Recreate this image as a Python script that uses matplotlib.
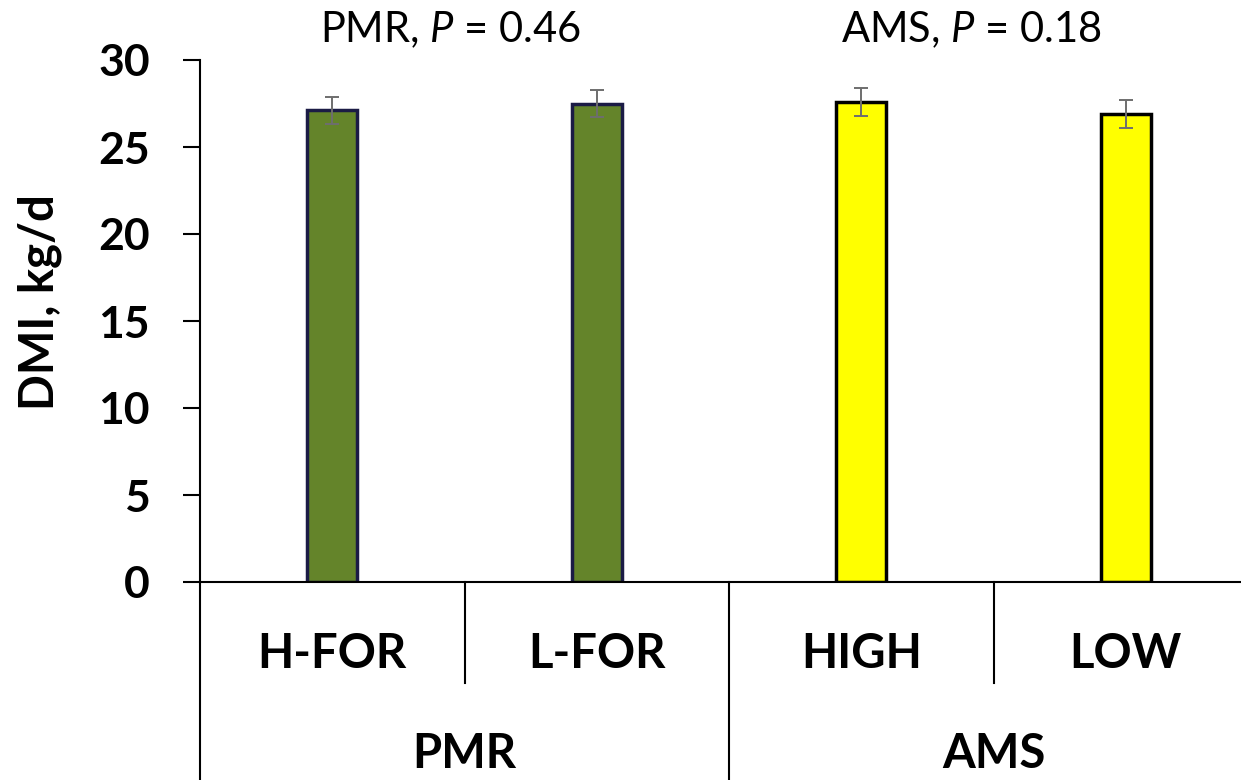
import matplotlib
matplotlib.use("Agg")
import matplotlib.pyplot as plt

# data
categories = ["H-FOR", "L-FOR", "HIGH", "LOW"]
groups = ["PMR", "AMS"]
dmi = [27.1, 27.5, 27.6, 26.9]
sem = [0.79, 0.78, 0.80, 0.80]
titles = ["PMR, $\\mathit{P}$ = 0.46", "AMS, $\\mathit{P}$ = 0.18"]

plt.rcParams['font.family'] = ['Lato', 'DejaVu Sans']
plt.rcParams['mathtext.fontset'] = 'custom'
plt.rcParams['mathtext.it'] = 'Lato:italic'
plt.rcParams['mathtext.rm'] = 'Lato'

fig = plt.figure(figsize=(12.41, 7.8), dpi=100)
ax = fig.add_axes([200 / 1241, 198 / 780, 1058 / 1241, 522 / 780])

colors = ["#64842A", "#64842A", "#FFFF00", "#FFFF00"]
edges = ["#1B1B45", "#1B1B45", "#000000", "#000000"]
xs = list(range(len(categories)))
ax.bar(xs, dmi, width=0.19, color=colors, edgecolor=edges, linewidth=2.5, zorder=2)
ax.errorbar(xs, dmi, yerr=sem, fmt='none', ecolor="#6E6E6E", elinewidth=1.4,
            capsize=5, capthick=1.4, zorder=3)

ax.set_xlim(-0.5, 3.5)
ax.set_ylim(0, 30)
ax.set_yticks([0, 5, 10, 15, 20, 25, 30])
ax.tick_params(axis='y', direction='out', length=12, width=1.5, pad=24, labelsize=32)
for lab in ax.get_yticklabels():
    lab.set_fontweight('bold')
ax.set_xticks([])

for side in ['top', 'right']:
    ax.spines[side].set_visible(False)
ax.spines['left'].set_linewidth(1.5)
ax.spines['bottom'].set_linewidth(1.5)

fig.text(40 / 1241, 1 - 302 / 780, "DMI, kg/d", rotation=90, fontsize=34,
         fontweight='bold', ha='center', va='center')

tr = ax.get_xaxis_transform()
# category separators
for i, x in enumerate([-0.5, 0.5, 1.5, 2.5, 3.5]):
    y_end = -0.40 if i % 2 == 0 else -0.1935
    ax.plot([x, x], [0, y_end], color='black', lw=1.5, transform=tr, clip_on=False)

for x, c in zip(xs, categories):
    ax.text(x, -0.1648, c, transform=tr, ha='center', va='baseline',
            fontsize=34, fontweight='bold')
for j, g in enumerate(groups):
    ax.text(0.5 + 2 * j, -0.356, g, transform=tr, ha='center', va='baseline',
            fontsize=34, fontweight='bold')

for xpos, t in zip([0.449, 2.415], titles):
    ax.text(xpos, 1.0345, t, transform=tr, ha='center', va='baseline', fontsize=30)

fig.savefig("out.png", dpi=100)
